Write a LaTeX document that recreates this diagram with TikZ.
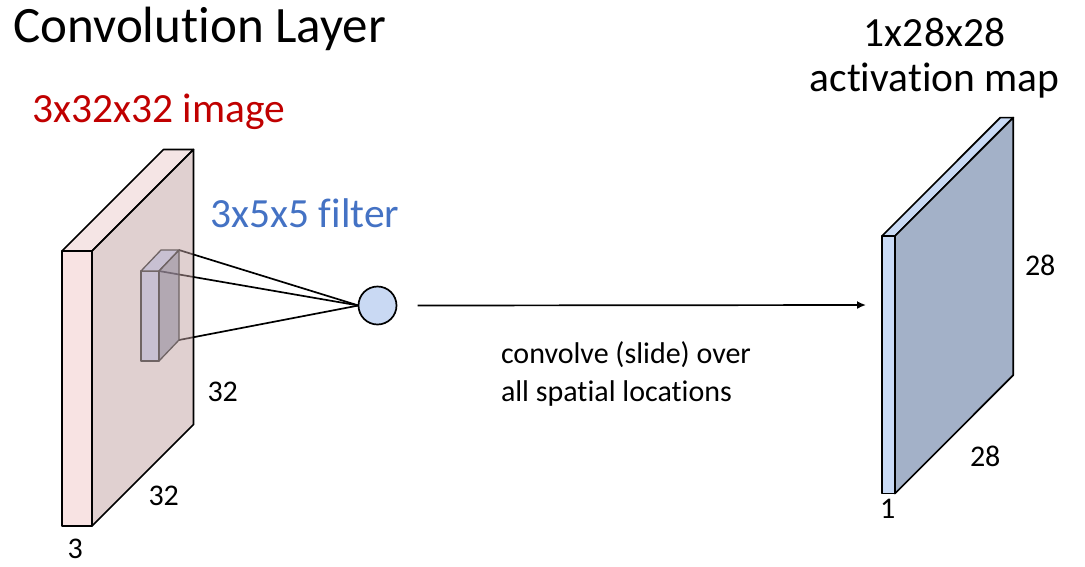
\documentclass[tikz,border=0pt]{standalone}
\usepackage{fontspec}
\setmainfont{Carlito}[Ligatures=NoCommon]
\usetikzlibrary{arrows.meta}
\definecolor{imgfront}{HTML}{F8E3E3}
\definecolor{imgtop}{HTML}{F5E5E5}
\definecolor{imgside}{RGB}{193,161,161}
\definecolor{filtfront}{HTML}{C8C0D2}
\definecolor{filtside}{RGB}{134,128,150}
\definecolor{filtline}{HTML}{6F6464}
\definecolor{neuronfill}{HTML}{C9D9F3}
\definecolor{actfront}{HTML}{C9DAF5}
\definecolor{actside}{HTML}{A3B1C8}
\definecolor{imgred}{HTML}{C00000}
\definecolor{filtblue}{HTML}{4472C4}
\begin{document}
\begin{tikzpicture}[
  x=1pt, y=-1pt,
  every node/.style={inner sep=0pt, outer sep=0pt},
  face/.style={draw=black, line width=1.7pt, line join=round},
  filtface/.style={draw=filtline, line width=1.3pt, line join=round},
  wire/.style={draw=black, line width=1.7pt},
  dimlabel/.style={anchor=base west, font=\fontsize{30}{36}\selectfont},
  biglabel/.style={font=\fontsize{41.5}{45}\selectfont}
]
\useasboundingbox (0,0) rectangle (1085,566);
\node[anchor=base west, font=\fontsize{51}{60}\selectfont] (title) at (13.5,42) {Convolution Layer};

\node[circle, draw=black, line width=1.7pt, fill=neuronfill, minimum size=38pt] (neuron) at (377.5,305.5) {};
\coordinate (filt-tr) at (179,250);
\coordinate (filt-fr) at (159,271);
\coordinate (filt-br) at (179,340);
\foreach \c in {filt-tr, filt-fr, filt-br}
  \draw[wire] (\c) -- (neuron.west);

\filldraw[face, fill=imgfront] (62,251) rectangle (92,526);
\filldraw[face, fill=imgtop] (62,251) -- (163.5,149.5) -- (193.5,149.5) -- (92,251) -- cycle;
\path[fill=imgside, fill opacity=0.5] (92,251) -- (193.5,149.5) -- (193.5,424.5) -- (92,526) -- cycle;
\draw[face] (92,251) -- (193.5,149.5) -- (193.5,424.5) -- (92,526) -- cycle;

\filldraw[filtface, fill=filtfront] (141,271) rectangle (159,361);
\filldraw[filtface, fill=filtfront] (141,271) -- (161,250) -- (179,250) -- (159,271) -- cycle;
\path[fill=filtside, fill opacity=0.5] (159,271) -- (179,250) -- (179,340) -- (159,361) -- cycle;
\draw[filtface] (159,271) -- (179,250) -- (179,340) -- (159,361) -- cycle;

\node[biglabel, anchor=base west, text=imgred] (imglabel) at (32,122) {3x32x32 image};
\node[biglabel, anchor=base west, text=filtblue] (filtlabel) at (210.5,227.3) {3x5x5 filter};
\node[dimlabel] (imgh) at (207.5,401.7) {32};
\node[dimlabel] (imgw) at (148.5,505) {32};
\node[dimlabel] (imgd) at (67.5,558) {3};

\coordinate (act-in) at (866,305);
\draw[wire, -{Latex[length=9pt, width=8pt]}] ([xshift=21pt]neuron.east) -- (act-in);
\node[dimlabel] (slide1) at (501,363) {convolve (slide) over};
\node[dimlabel] (slide2) at (501,401) {all spatial locations};

\filldraw[face, fill=actfront] (882,236) rectangle (895,493.5);
\filldraw[face, fill=actfront] (882,236) -- (1000.3,117.6) -- (1013.3,117.6) -- (895,236) -- cycle;
\filldraw[face, fill=actside] (895,236) -- (1013.3,117.6) -- (1013.3,375.1) -- (895,493.5) -- cycle;

\node[biglabel, anchor=base] (actdims) at (934.5,46.7) {1x28x28};
\node[biglabel, anchor=base] (actlabel) at (934.5,91.7) {activation map};
\node[dimlabel] (acth) at (1025,275) {28};
\node[dimlabel] (actw) at (970,466.7) {28};
\node[dimlabel] (actd) at (880,518) {1};
\end{tikzpicture}
\end{document}
